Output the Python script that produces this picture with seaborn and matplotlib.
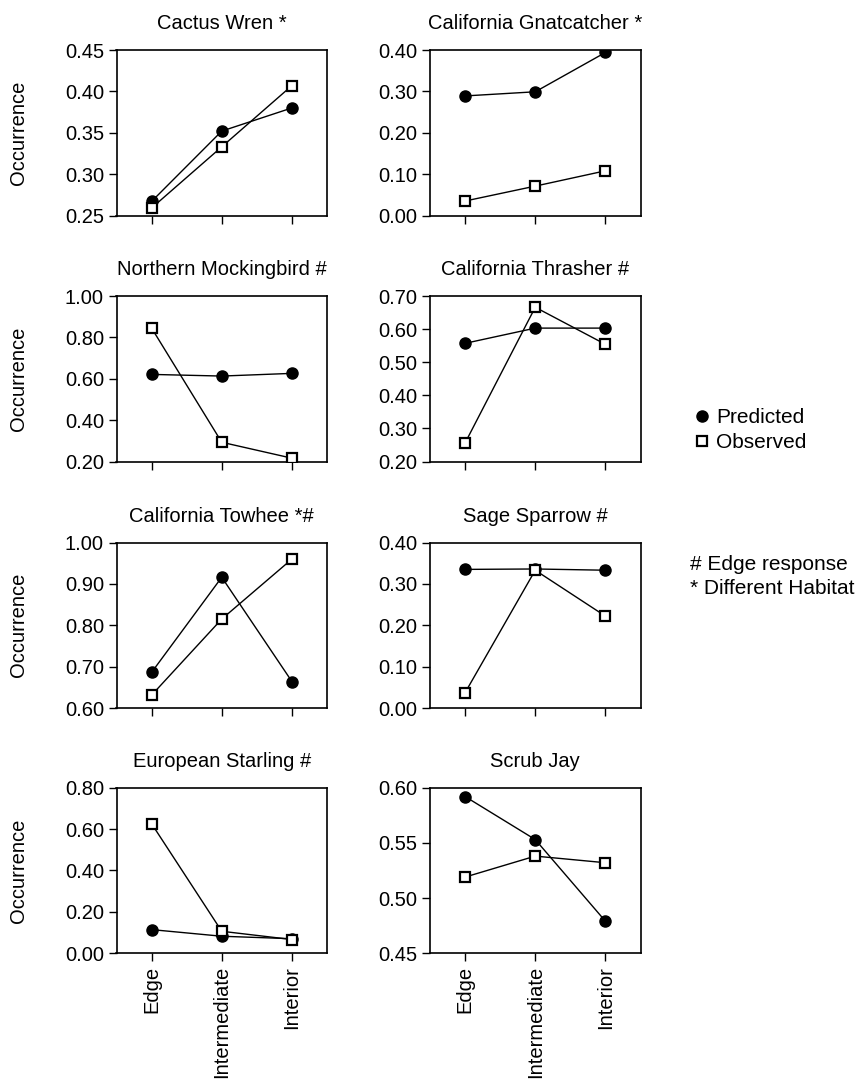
import pandas as pd
import seaborn as sns
import matplotlib.pyplot as plt
from matplotlib.lines import Line2D

# categorias del eje x
positions = ['Edge', 'Intermediate', 'Interior']

# titulos de los paneles (fila por fila)
titles = ['Cactus Wren *', 'California Gnatcatcher *',
          'Northern Mockingbird #', 'California Thrasher #',
          'California Towhee *#', 'Sage Sparrow #',
          'European Starling #', 'Scrub Jay']

cactus_wren_pred = [0.267, 0.352, 0.380]
cactus_wren_obs = [0.259, 0.333, 0.407]
gnatcatcher_pred = [0.289, 0.299, 0.394]
gnatcatcher_obs = [0.035, 0.071, 0.108]
mockingbird_pred = [0.621, 0.613, 0.626]
mockingbird_obs = [0.845, 0.293, 0.216]
thrasher_pred = [0.557, 0.603, 0.603]
thrasher_obs = [0.256, 0.666, 0.554]
towhee_pred = [0.686, 0.916, 0.664]
towhee_obs = [0.631, 0.815, 0.960]
sparrow_pred = [0.335, 0.336, 0.333]
sparrow_obs = [0.037, 0.333, 0.222]
starling_pred = [0.114, 0.082, 0.070]
starling_obs = [0.626, 0.106, 0.066]
scrub_jay_pred = [0.592, 0.553, 0.479]
scrub_jay_obs = [0.519, 0.538, 0.532]

predicted = [cactus_wren_pred, gnatcatcher_pred, mockingbird_pred, thrasher_pred,
             towhee_pred, sparrow_pred, starling_pred, scrub_jay_pred]
observed = [cactus_wren_obs, gnatcatcher_obs, mockingbird_obs, thrasher_obs,
            towhee_obs, sparrow_obs, starling_obs, scrub_jay_obs]

# rangos y ticks del eje y
y_ranges = [(0.25, 0.45, 0.05), (0.0, 0.40, 0.10),
            (0.20, 1.00, 0.20), (0.20, 0.70, 0.10),
            (0.60, 1.00, 0.10), (0.0, 0.40, 0.10),
            (0.0, 0.80, 0.20), (0.45, 0.60, 0.05)]

sns.set_theme(style='white')
plt.rcParams['font.family'] = ['Liberation Sans', 'DejaVu Sans']
plt.rcParams['text.color'] = 'black'
plt.rcParams['axes.labelcolor'] = 'black'
plt.rcParams['xtick.color'] = 'black'
plt.rcParams['ytick.color'] = 'black'

FS = 14.5

W, H = 856, 1086
fig = plt.figure(figsize=(W / 100, H / 100), dpi=100)

col_x = [116.5, 430]
row_top = [50, 296, 542.5, 787.7]
ax_w, ax_h = 210.5, 165.5

for i, title in enumerate(titles):
    r, c = divmod(i, 2)
    ax = fig.add_axes([col_x[c] / W, 1 - (row_top[r] + ax_h) / H, ax_w / W, ax_h / H])

    df = pd.DataFrame({'pos': positions, 'pred': predicted[i], 'obs': observed[i]})
    sns.lineplot(data=df, x='pos', y='pred', ax=ax, sort=False, color='black',
                 lw=1.0, marker='o', ms=8, mfc='black', mec='black', mew=1, zorder=3)
    sns.lineplot(data=df, x='pos', y='obs', ax=ax, sort=False, color='black',
                 lw=1.0, marker='s', ms=7.5, mfc='white', mec='black', mew=1.6, zorder=4)

    lo, hi, step = y_ranges[i]
    n = int(round((hi - lo) / step))
    ticks = [lo + k * step for k in range(n + 1)]
    ax.set_ylim(lo, hi)
    ax.set_yticks(ticks)
    ax.set_yticklabels([f'{t:.2f}' for t in ticks], fontsize=FS)
    ax.set_xlim(-0.5, 2.5)
    ax.set_xticks(range(3))
    if r == 3:
        ax.set_xticklabels(positions, rotation=90, fontsize=FS)
    else:
        ax.set_xticklabels([])

    ax.tick_params(axis='both', direction='out', length=6, width=1, color='black',
                   bottom=True, left=True, pad=3)
    for s in ax.spines.values():
        s.set_color('black')
        s.set_linewidth(1.2)

    ax.set_title(title, fontsize=FS, pad=15)
    ax.set_xlabel('')
    if c == 0:
        ax.set_ylabel('Occurrence', fontsize=FS)
        ax.yaxis.set_label_coords(-0.42, 0.5)
    else:
        ax.set_ylabel('')

handles = [Line2D([], [], ls='none', marker='o', ms=8, mfc='black', mec='black'),
           Line2D([], [], ls='none', marker='s', ms=7.5, mfc='white', mec='black', mew=1.6)]
fig.legend(handles, ['Predicted', 'Observed'], loc='center left',
           bbox_to_anchor=(683 / W, 1 - 430 / H), frameon=False, fontsize=15,
           handlelength=0.8, handletextpad=0.3, labelspacing=0.3, borderpad=0)

fig.text(690 / W, 1 - 565 / H, '# Edge response', fontsize=15, va='center')
fig.text(690 / W, 1 - 588 / H, '* Different Habitat', fontsize=15, va='center')

plt.savefig('out.png', dpi=100)
plt.close()
